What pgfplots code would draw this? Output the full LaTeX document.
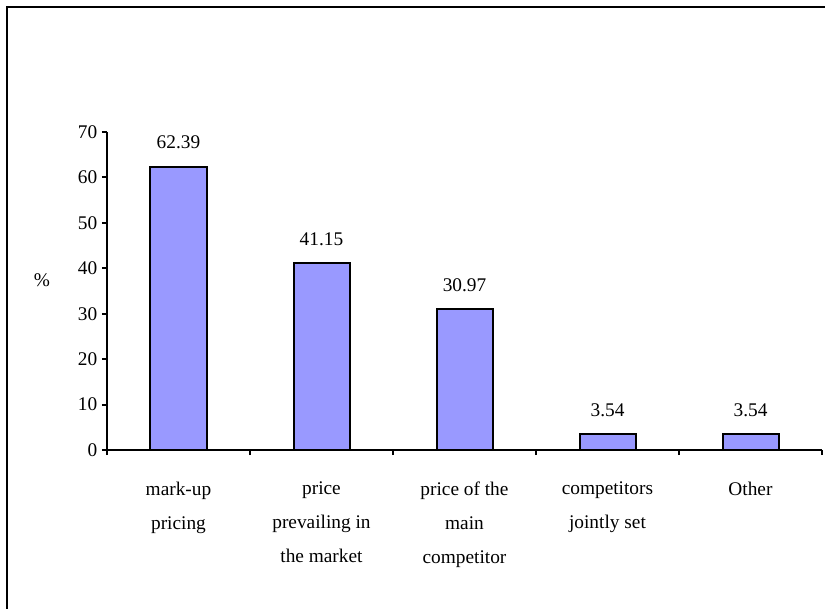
\documentclass[border=0pt]{standalone}
\usepackage{fontspec}
\setmainfont{Liberation Serif}
\usepackage{pgfplots}
\pgfplotsset{compat=1.18}
\definecolor{barblue}{HTML}{9999FF}

\begin{document}
\begin{tikzpicture}
\useasboundingbox (0,0) rectangle (618.75pt,456pt);
\begin{axis}[
    at={(80.25pt,118.5pt)}, anchor=south west,
    scale only axis,
    width=536.25pt, height=238.5pt,
    xmin=-0.5, xmax=4.5,
    ymin=0, ymax=70,
    ytick={0,10,...,70},
    xtick={-0.5,0.5,...,4.5},
    xticklabels={mark-up\\pricing, price\\prevailing in\\the market, price of the\\main\\competitor, competitors\\jointly set, Other, {}},
    xticklabel style={xshift=53.6pt, yshift=-16.5pt, align=center, font=\fontsize{14.5}{25.5}\selectfont},
    yticklabel style={font=\fontsize{14.5}{17}\selectfont},
    /pgf/number format/assume math mode=true,
    axis x line=bottom, axis y line=left,
    axis line style={-, line width=1.4pt},
    tick style={line width=1.4pt, black},
    tick align=outside,
    major tick length=3.75pt,
    ylabel={\%},
    ylabel style={rotate=-90, at={(axis description cs:-0.091,0.535)}, anchor=center, font=\fontsize{14.5}{17}\selectfont},
    ybar, bar width=42pt,
    nodes near coords={\pgfmathprintnumber[fixed,precision=2,fixed zerofill]{\pgfplotspointmeta}},
    every node near coord/.append style={anchor=south, inner sep=0pt, yshift=12.3pt, font=\fontsize{14.5}{17}\selectfont},
]
\addplot[fill=barblue, draw=black, line width=1.5pt] coordinates {
    (0,62.39) (1,41.15) (2,30.97) (3,3.54) (4,3.54)
};
\end{axis}
\draw[line width=1.5pt] (5.25pt,-10pt) -- (5.25pt,450.75pt) -- (640pt,450.75pt);
\end{tikzpicture}
\end{document}
